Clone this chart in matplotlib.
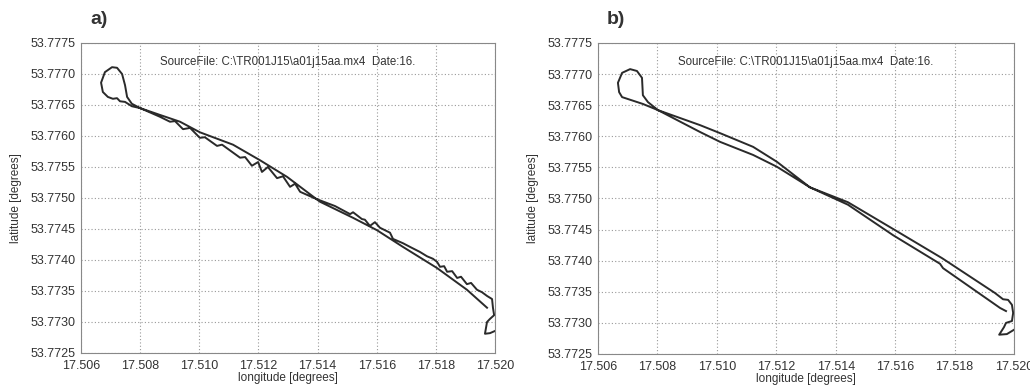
import matplotlib.pyplot as plt
from matplotlib.ticker import FormatStrFormatter

plt.rcParams['font.family'] = ['Liberation Sans', 'DejaVu Sans']

# track a) - longitude / latitude
lon_a = [17.51973, 17.51905, 17.51804, 17.51689, 17.51601, 17.51520, 17.51408, 17.51297,
         17.51205, 17.51114, 17.51002, 17.50935, 17.50867, 17.50800, 17.50772, 17.50756,
         17.50749, 17.50739, 17.50722, 17.50705, 17.50681, 17.50668, 17.50674, 17.50691,
         17.50708, 17.50722, 17.50732, 17.50749, 17.50772, 17.50800, 17.50867, 17.50901,
         17.50918, 17.50945, 17.50969, 17.51002, 17.51019, 17.51060, 17.51077, 17.51138,
         17.51155, 17.51178, 17.51199, 17.51212, 17.51232, 17.51263, 17.51283, 17.51307,
         17.51324, 17.51341, 17.51374, 17.51398, 17.51459, 17.51510, 17.51520, 17.51550,
         17.51560, 17.51577, 17.51594, 17.51611, 17.51645, 17.51655, 17.51689, 17.51713,
         17.51746, 17.51770, 17.51790, 17.51804, 17.51814, 17.51828, 17.51838, 17.51855,
         17.51872, 17.51885, 17.51905, 17.51919, 17.51939, 17.51956, 17.51973, 17.51990,
         17.51993, 17.51997, 17.51983, 17.51973, 17.51966, 17.51983, 17.52007]
lat_a = [53.77323, 53.77352, 53.77387, 53.77421, 53.77448, 53.77468, 53.77494, 53.77534,
         53.77561, 53.77586, 53.77606, 53.77623, 53.77634, 53.77645, 53.77652, 53.77663,
         53.77682, 53.77700, 53.77710, 53.77711, 53.77703, 53.77686, 53.77671, 53.77663,
         53.77660, 53.77661, 53.77656, 53.77655, 53.77648, 53.77645, 53.77631, 53.77623,
         53.77624, 53.77611, 53.77613, 53.77597, 53.77598, 53.77584, 53.77586, 53.77565,
         53.77566, 53.77552, 53.77558, 53.77542, 53.77550, 53.77532, 53.77535, 53.77518,
         53.77523, 53.77510, 53.77503, 53.77498, 53.77487, 53.77474, 53.77477, 53.77466,
         53.77465, 53.77455, 53.77461, 53.77452, 53.77444, 53.77434, 53.77427, 53.77421,
         53.77413, 53.77406, 53.77402, 53.77397, 53.77389, 53.77390, 53.77381, 53.77382,
         53.77371, 53.77373, 53.77361, 53.77363, 53.77352, 53.77348, 53.77342, 53.77337,
         53.77323, 53.77311, 53.77305, 53.77300, 53.77281, 53.77282, 53.77287]

# track b)
lon_b = [17.51973, 17.51953, 17.51761, 17.51751, 17.51593, 17.51441, 17.51313, 17.51202,
         17.51122, 17.51011, 17.50943, 17.50802, 17.50768, 17.50751, 17.50748, 17.50731,
         17.50708, 17.50681, 17.50667, 17.50671, 17.50681, 17.50751, 17.50802, 17.50943,
         17.51011, 17.51122, 17.51202, 17.51313, 17.51441, 17.51593, 17.51758, 17.51936,
         17.51963, 17.51980, 17.51993, 17.51997, 17.51993, 17.51973, 17.51966, 17.51950,
         17.51976, 17.52000]
lat_b = [53.77319, 53.77324, 53.77388, 53.77395, 53.77441, 53.77490, 53.77518, 53.77559,
         53.77583, 53.77605, 53.77618, 53.77642, 53.77655, 53.77666, 53.77694, 53.77705,
         53.77708, 53.77702, 53.77686, 53.77671, 53.77663, 53.77652, 53.77642, 53.77607,
         53.77591, 53.77570, 53.77551, 53.77518, 53.77494, 53.77451, 53.77404, 53.77348,
         53.77338, 53.77337, 53.77329, 53.77316, 53.77303, 53.77300, 53.77293, 53.77281,
         53.77282, 53.77289]

x_ticks = [17.506, 17.508, 17.510, 17.512, 17.514, 17.516, 17.518, 17.520]
y_ticks = [53.7725, 53.7730, 53.7735, 53.7740, 53.7745, 53.7750, 53.7755,
           53.7760, 53.7765, 53.7770, 53.7775]
titulo = 'SourceFile: C:\\TR001J15\\a01j15aa.mx4  Date:16.'

fig = plt.figure(figsize=(10.3, 3.87), dpi=100)
ax1 = fig.add_axes([0.0786, 0.0879, 0.4020, 0.8010])
ax2 = fig.add_axes([0.5806, 0.0853, 0.4039, 0.8036])

for ax, lon, lat, letra in [(ax1, lon_a, lat_a, 'a)'), (ax2, lon_b, lat_b, 'b)')]:
    ax.plot(lon, lat, color='#2a2a2a', lw=1.4)
    ax.set_xlim(17.506, 17.520)
    ax.set_ylim(53.7725, 53.7775)
    ax.set_xticks(x_ticks)
    ax.set_yticks(y_ticks)
    ax.xaxis.set_major_formatter(FormatStrFormatter('%.3f'))
    ax.yaxis.set_major_formatter(FormatStrFormatter('%.4f'))
    ax.tick_params(length=0, labelsize=9, colors='#333333')
    ax.tick_params(axis='x', pad=5)
    ax.tick_params(axis='y', pad=4)
    ax.grid(True, linestyle=(0, (1, 2)), color='#999999', lw=0.8)
    for s in ax.spines.values():
        s.set_color('#888888')
    ax.set_xlabel('longitude [degrees]', fontsize=8.5, color='#333333', labelpad=0)
    ax.set_ylabel('latitude [degrees]', fontsize=8.5, color='#333333', labelpad=6)
    ax.text(0.5, 0.94, titulo, transform=ax.transAxes, ha='center', va='center',
            fontsize=8.3, color='#333333')
    ax.text(0.022, 1.075, letra, transform=ax.transAxes, ha='left', va='center',
            fontsize=14, fontweight='bold', color='#333333')

fig.savefig('out.png', dpi=100)
